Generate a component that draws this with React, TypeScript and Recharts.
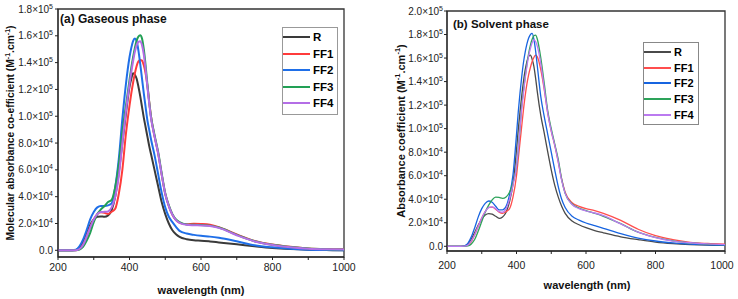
import React from 'react';
import { LineChart, Line, XAxis, YAxis, ReferenceArea } from 'recharts';

// wavelength grid (nm), shared by every series
const wavelengths = [200, 240, 250, 260, 270, 280, 290, 300, 310, 320, 330, 340, 350, 360, 370, 380, 390, 400, 405, 410, 415, 420, 425, 430, 435, 440, 445, 450, 455, 460, 470, 480, 490, 500, 510, 520, 530, 540, 560, 580, 600, 625, 650, 700, 750, 800, 850, 900, 950, 1000];

// (a) gaseous phase, values in 10^3 M-1.cm-1
const gasR = [0, 0, 0.3, 2, 6, 12, 19, 23, 25, 25.3, 25, 26, 30, 40, 58, 80, 102, 122, 128, 132, 131, 128, 122, 115, 107, 99, 92, 85, 78, 72, 60, 48, 36, 27, 20, 15, 12, 10, 8.3, 7.5, 7.2, 6.6, 5.9, 4.5, 3, 1.7, 0.9, 0.4, 0.15, 0.05];
const gasFF1 = [0, 0, 0.1, 1, 4, 10, 17, 23, 27, 28.3, 28, 27, 28.8, 31, 42, 60, 87, 108, 117, 125, 132, 137.5, 141, 142, 141.5, 138, 132, 123, 111, 100, 85, 72.5, 56.5, 42, 33, 26.5, 22.5, 20.5, 19.5, 19.8, 19.6, 19, 17.3, 11.8, 7, 4.3, 2.6, 1.4, 0.9, 0.7];
const gasFF2 = [0, 0, 0.4, 3, 8, 15, 23, 28.5, 32, 33, 33, 33.5, 35, 47, 68, 98, 124, 144, 151, 156, 158, 156, 149, 139, 128, 117, 107, 97, 90, 83, 71, 57, 43, 32, 25, 21, 17.5, 14.5, 12.5, 11.5, 10.8, 10.2, 9.3, 6.7, 3.8, 2.2, 1.1, 0.5, 0.2, 0.1];
const gasFF3 = [0, 0, 0, 0.5, 2.5, 7, 13, 21, 27, 30.5, 33, 36, 37.5, 47, 64, 88, 108, 127, 136, 144, 151, 156.5, 159.5, 160.5, 158, 150, 138, 124, 111, 100, 86, 73.5, 57.5, 42.5, 33.5, 27, 23, 21, 19.3, 19, 18.8, 18.4, 17, 11.5, 6.8, 4.1, 2.4, 1.3, 0.8, 0.6];
const gasFF4 = [0, 0, 0.1, 1, 4, 10, 17, 23, 27, 28.5, 28.7, 29, 32, 40, 55, 80, 104, 124, 133, 141, 148, 153, 155.5, 156, 153, 146, 135, 122, 110, 99, 85, 72.5, 56.5, 42, 33, 26.5, 22.5, 20.5, 19, 18.7, 18.5, 18.1, 16.7, 11.2, 6.6, 4, 2.3, 1.2, 0.8, 0.6];

// (b) solvent phase, values in 10^3 M-1.cm-1
const solR = [0, 0, 0.2, 2, 6, 12, 18, 23, 26.5, 27.8, 27.3, 25.5, 23.8, 25, 29, 38, 53, 82, 99, 114, 128, 140, 150, 157, 161.5, 162.5, 159, 153, 143, 131, 111, 96, 80, 65, 52, 42, 34, 28, 21.5, 18.3, 15.8, 13.3, 11.5, 8.1, 5.7, 3.6, 2.3, 1.5, 1, 0.8];
const solFF1 = [0, 0, 0.1, 1, 4, 10, 17, 24, 29.5, 33, 33.3, 31.5, 29, 28, 29.5, 32, 42, 60, 74, 88, 102, 116, 128, 138, 146, 152, 157, 160.5, 162.5, 161, 150, 133, 113, 98, 86, 72, 57, 46, 37, 34, 32, 30.3, 28, 22, 14.5, 9, 5.7, 3.4, 2.4, 1.8];
const solFF2 = [0, 0, 0.3, 2.5, 8, 16, 25, 32, 36.5, 38.5, 37.5, 34, 31, 31, 34, 44, 61, 95, 114, 130, 144, 156, 165, 172, 177, 180, 181, 176, 166, 153, 127, 110, 95, 80, 65, 51, 40, 33, 25.5, 22.3, 19.8, 17.5, 15.3, 10.8, 7, 4.5, 2.9, 1.8, 1.2, 0.9];
const solFF3 = [0, 0, 0, 0.3, 2, 6, 13, 21, 29, 35, 39.5, 41.8, 41.5, 40.8, 42, 46, 54, 68, 82, 100, 119, 132, 144, 155, 164, 171, 176, 179, 179.5, 176, 160, 138, 115, 100, 87, 74, 57, 45, 36, 32.5, 30.3, 28, 25.5, 19.2, 12, 7.5, 4.6, 2.9, 1.9, 1.4];
const solFF4 = [0, 0, 0.1, 1, 4.5, 10, 17, 24, 29.5, 32.8, 33.5, 32, 29.5, 29, 32, 40, 52, 68, 82, 100, 117, 130, 143, 153, 162, 168, 173, 175.4, 174, 170, 155, 134, 113, 98, 86, 72, 56, 45, 35.5, 32, 30, 28.3, 26, 19, 12, 7.3, 4.4, 3, 2, 1.4];

const seriesNames = ['R', 'FF1', 'FF2', 'FF3', 'FF4'];
const xTicks = [200, 300, 400, 500, 600, 700, 800, 900, 1000];
const xLabels = [200, 400, 600, 800, 1000];
const gasYTicks = [0, 10, 20, 30, 40, 50, 60, 70, 80, 90, 100, 110, 120, 130, 140, 150, 160, 170, 180];
const solYTicks = [0, 10, 20, 30, 40, 50, 60, 70, 80, 90, 100, 110, 120, 130, 140, 150, 160, 170, 180, 190, 200];

const gasColors = ['#3a3a3a', '#ff3b3b', '#1f6fe8', '#22a055', '#b46ee6'];
const solColors = ['#4a4a4a', '#ff4d4d', '#1764e0', '#2da35a', '#bb7af0'];

const FONT = '"Liberation Sans", Arial, sans-serif';

const buildRows = (cols: number[][]) =>
  wavelengths.map((w, i) => {
    const row: Record<string, number> = { w };
    seriesNames.forEach((n, k) => (row[n] = cols[k][i]));
    return row;
  });

const gasRows = buildRows([gasR, gasFF1, gasFF2, gasFF3, gasFF4]);
const solRows = buildRows([solR, solFF1, solFF2, solFF3, solFF4]);

// value in thousands -> "1.8×10^5"
const YTick = (props: any) => {
  const { x, y, payload, fontSize } = props;
  const v = payload.value;
  if (v % 20 !== 0) return <g />;
  if (v === 0)
    return (
      <text x={x} y={y} dy={3.5} textAnchor="end" fontSize={fontSize} fill="#222" fontFamily={FONT}>0.0</text>
    );
  const exp = v >= 100 ? 5 : 4;
  const mant = exp === 5 ? (v / 100).toFixed(1) : (v / 10).toFixed(1);
  return (
    <text x={x} y={y} dy={3.5} textAnchor="end" fontSize={fontSize} fill="#222" fontFamily={FONT}>
      <tspan>{mant}×10</tspan>
      <tspan dy={-4} fontSize={fontSize * 0.7}>{exp}</tspan>
    </text>
  );
};

const XTick = (props: any) => {
  const { x, y, payload, fontSize } = props;
  if (!xLabels.includes(payload.value)) return <g />;
  return (
    <text x={x} y={y} dy={9} textAnchor="middle" fontSize={fontSize} fill="#222" fontFamily={FONT}>
      {payload.value}
    </text>
  );
};

type PanelProps = {
  rows: Record<string, number>[];
  colors: string[];
  left: number;
  width: number;
  yAxisWidth: number;
  margin: { top: number; right: number; left: number; bottom: number };
  xAxisHeight: number;
  yDomain: [number, number];
  yTicks: number[];
  lineWidth: number;
  xTickMargin: number;
  yTickMargin: number;
};

const Panel = ({ rows, colors, left, width, yAxisWidth, margin, xAxisHeight, yDomain, yTicks, lineWidth, xTickMargin, yTickMargin }: PanelProps) => (
  <div style={{ position: 'absolute', left, top: 0 }}>
    <LineChart width={width} height={299} data={rows} margin={margin}>
      <XAxis
        dataKey="w"
        type="number"
        domain={[200, 1000]}
        ticks={xTicks}
        height={xAxisHeight}
        tickSize={3}
        tickMargin={xTickMargin}
        stroke="#222"
        tick={<XTick fontSize={10.5} />}
        allowDataOverflow
      />
      <YAxis
        type="number"
        domain={yDomain}
        ticks={yTicks}
        width={yAxisWidth}
        tickSize={3}
        tickMargin={yTickMargin}
        stroke="#222"
        tick={<YTick fontSize={10} />}
        allowDataOverflow
      />
      <ReferenceArea x1={200} x2={1000} y1={yDomain[0]} y2={yDomain[1]} fill="none" stroke="#333" strokeWidth={1.3} />
      {seriesNames.map((n, k) => (
        <Line key={n} type="monotone" dataKey={n} stroke={colors[k]} strokeWidth={lineWidth} dot={false} isAnimationActive={false} />
      ))}
    </LineChart>
  </div>
);

const LegendBox = ({ colors, left, top, rowH, font, lineW, border }: { colors: string[]; left: number; top: number; rowH: number; font: number; lineW: number; border: string }) => (
  <div style={{ position: 'absolute', left, top, border, padding: '1px 4px 2px 0', fontFamily: FONT, fontWeight: 'bold', fontSize: font, background: '#fff' }}>
    {seriesNames.map((n, k) => (
      <div key={n} style={{ display: 'flex', alignItems: 'center', height: rowH }}>
        <span style={{ display: 'inline-block', width: 27, height: lineW, background: colors[k], marginRight: 3 }} />
        <span>{n}</span>
      </div>
    ))}
  </div>
);

const abs = (s: React.CSSProperties): React.CSSProperties => ({ position: 'absolute', fontFamily: FONT, fontWeight: 'bold', color: '#111', whiteSpace: 'nowrap', ...s });

export default function App() {
  return (
    <div style={{ position: 'absolute', left: 0, top: 0, width: 738, height: 299, background: '#fff', overflow: 'hidden' }}>
      <Panel
        rows={gasRows}
        colors={gasColors}
        left={0}
        width={369}
        yAxisWidth={58}
        margin={{ top: 9, right: 25, left: 0, bottom: 0 }}
        xAxisHeight={42}
        yDomain={[-5, 180]}
        yTicks={gasYTicks}
        lineWidth={2}
        xTickMargin={2}
        yTickMargin={2}
      />
      <Panel
        rows={solRows}
        colors={solColors}
        left={370}
        width={368}
        yAxisWidth={77}
        margin={{ top: 11, right: 13, left: 0, bottom: 0 }}
        xAxisHeight={48}
        yDomain={[-4, 200]}
        yTicks={solYTicks}
        lineWidth={1.3}
        xTickMargin={6}
        yTickMargin={1}
      />

      {/* panel titles */}
      <div style={abs({ left: 60, top: 12, fontSize: 12 })}>(a) Gaseous phase</div>
      <div style={abs({ left: 453, top: 18, fontSize: 11.5 })}>(b) Solvent phase</div>

      {/* axis titles */}
      <div style={abs({ left: 201, top: 290, fontSize: 11, transform: 'translate(-50%, -50%)' })}>wavelength (nm)</div>
      <div style={abs({ left: 587, top: 285, fontSize: 11, transform: 'translate(-50%, -50%)' })}>wavelength (nm)</div>
      <div style={abs({ left: 10, top: 133, fontSize: 10.3, transform: 'translate(-50%, -50%) rotate(-90deg)' })}>
        Molecular absorbance co-efficient (M<sup style={{ fontSize: 7 }}>-1</sup>.cm<sup style={{ fontSize: 7 }}>-1</sup>)
      </div>
      <div style={abs({ left: 400, top: 131, fontSize: 11, transform: 'translate(-50%, -50%) rotate(-90deg)' })}>
        Absorbance coefficient (M<sup style={{ fontSize: 7.5 }}>-1</sup>.cm<sup style={{ fontSize: 7.5 }}>-1</sup>)
      </div>

      <LegendBox colors={gasColors} left={282} top={27} rowH={16.5} font={11.5} lineW={2} border="1px solid #999" />
      <LegendBox colors={solColors} left={643} top={42} rowH={15.7} font={11} lineW={2} border="1px solid #888" />
    </div>
  );
}
